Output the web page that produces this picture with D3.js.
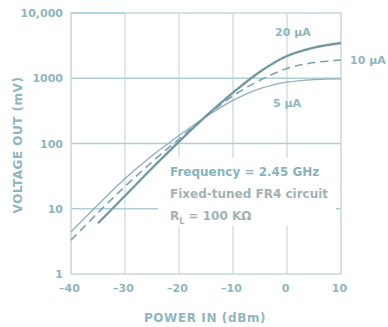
<!DOCTYPE html>
<html>
<head>
<meta charset="utf-8">
<script src="https://cdn.jsdelivr.net/npm/d3@7"></script>
<style>
  body { margin: 0; background: #fff; }
  text { font-family: "DejaVu Sans", sans-serif; font-weight: bold; }
</style>
</head>
<body>
<div class="chart"></div>
<script>
/* data */
const powerIn = [-40, -35, -30, -25, -20, -15, -10, -5, 0, 5, 10];
const uA5  = [4.4, 11.5, 29, 65, 132, 257, 457, 692, 871, 955, 977];
const uA10 = [3.3, 8.7, 22, 52, 117, 263, 537, 933, 1410, 1740, 1900];
const uA20 = [null, 6.0, 15.8, 41.7, 107, 263, 603, 1260, 2190, 2950, 3470];
const xTicks = [-40, -30, -20, -10, 0, 10];
const yTicks = [1, 10, 100, 1000, 10000];
const yTickLabels = ["1", "10", "100", "1000", "10,000"];

const W = 388, H = 327;
const margin = {top: 13, right: 47, bottom: 53, left: 71};

const svg = d3.select(".chart").append("svg")
  .attr("width", W).attr("height", H);

const x = d3.scaleLinear().domain([-40, 10]).range([margin.left, W - margin.right]);
const y = d3.scaleLog().domain([1, 10000]).range([H - margin.bottom, margin.top]);

const textCol = "#8fb6be";

/* grid */
svg.append("g").selectAll("line")
  .data(xTicks.slice(1, -1)).join("line")
  .attr("x1", d => x(d)).attr("x2", d => x(d))
  .attr("y1", y(10000)).attr("y2", y(1))
  .attr("stroke", "#d3dfe2").attr("stroke-width", 1.5);

svg.append("g").selectAll("line")
  .data(yTicks.slice(1, -1)).join("line")
  .attr("x1", x(-40)).attr("x2", x(10))
  .attr("y1", d => y(d)).attr("y2", d => y(d))
  .attr("stroke", "#aecfd5").attr("stroke-width", 1.5);

/* frame */
svg.append("rect")
  .attr("x", x(-40)).attr("y", y(10000))
  .attr("width", x(10) - x(-40)).attr("height", y(1) - y(10000))
  .attr("fill", "none").attr("stroke", "#c9d6da").attr("stroke-width", 1.5);
svg.append("line")
  .attr("x1", x(-40)).attr("x2", x(-30))
  .attr("y1", y(10000)).attr("y2", y(10000))
  .attr("stroke", "#a9cde0").attr("stroke-width", 1.5);

/* white box behind the note */
svg.append("rect")
  .attr("x", 158).attr("y", 158).attr("width", 178).attr("height", 68)
  .attr("fill", "#fff");

/* curves */
const line = d3.line()
  .defined(d => d[1] != null)
  .x(d => x(d[0])).y(d => y(d[1]))
  .curve(d3.curveCatmullRom.alpha(0.5));

const series = [
  {vals: uA5, color: "#8eb0b9", w: 1.3, dash: null},
  {vals: uA10, color: "#7ea3ae", w: 1.6, dash: "8,5"},
  {vals: uA20, color: "#6f98a4", w: 2.3, dash: null}
];
series.forEach(s => {
  svg.append("path")
    .datum(powerIn.map((p, i) => [p, s.vals[i]]))
    .attr("d", line)
    .attr("fill", "none")
    .attr("stroke", s.color)
    .attr("stroke-width", s.w)
    .attr("stroke-dasharray", s.dash);
});

/* axes */
const xAxis = d3.axisBottom(x).tickValues(xTicks).tickSize(0).tickPadding(10)
  .tickFormat(d => d < 0 ? "\u2013" + Math.abs(d) : d);
svg.append("g")
  .attr("transform", `translate(0,${y(1)})`)
  .call(xAxis)
  .call(g => g.select(".domain").remove())
  .call(g => g.selectAll("text").attr("fill", textCol)
    .attr("font-size", 11).attr("font-family", null).attr("dx", "-2"));

const yAxis = d3.axisLeft(y).tickValues(yTicks).tickSize(0).tickPadding(8)
  .tickFormat((d, i) => yTickLabels[i]);
svg.append("g")
  .attr("transform", `translate(${x(-40)},0)`)
  .call(yAxis)
  .call(g => g.select(".domain").remove())
  .call(g => g.selectAll("text").attr("fill", textCol)
    .attr("font-size", 11).attr("font-family", null));

/* axis titles */
svg.append("text")
  .attr("x", 205).attr("y", 322)
  .attr("text-anchor", "middle")
  .attr("font-size", 12).attr("letter-spacing", 0.6)
  .attr("fill", textCol)
  .text("POWER IN (dBm)");

svg.append("text")
  .attr("transform", "translate(22,145) rotate(-90)")
  .attr("text-anchor", "middle")
  .attr("font-size", 12).attr("letter-spacing", 0.5)
  .attr("fill", textCol)
  .text("VOLTAGE OUT (mV)");

/* series labels */
const labels = [
  {t: "20 \u00b5A", x: 275, y: 36},
  {t: "10 \u00b5A", x: 350, y: 64},
  {t: "5 \u00b5A", x: 273, y: 107}
];
svg.append("g").selectAll("text")
  .data(labels).join("text")
  .attr("x", d => d.x).attr("y", d => d.y)
  .attr("font-size", 11)
  .attr("fill", textCol)
  .text(d => d.t);

/* note */
const note = svg.append("g").attr("font-size", 12);
note.append("text").attr("x", 170).attr("y", 176)
  .attr("fill", "#86b3bd").text("Frequency = 2.45 GHz");
note.append("text").attr("x", 170).attr("y", 198)
  .attr("fill", "#a3b1b6").text("Fixed-tuned FR4 circuit");
const rl = note.append("text").attr("x", 170).attr("y", 220)
  .attr("fill", "#a3b1b6");
rl.append("tspan").text("R");
rl.append("tspan").attr("font-size", 8).attr("dy", 4).text("L");
rl.append("tspan").attr("dy", -4).text(" = 100 K\u03a9");
</script>
</body>
</html>
